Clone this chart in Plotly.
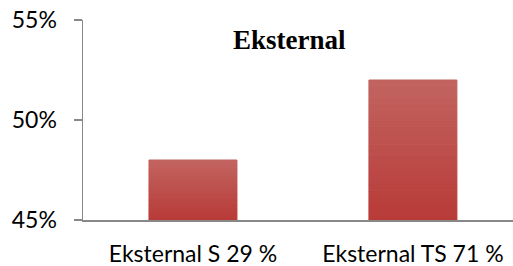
import plotly.graph_objects as go

categories = ["Eksternal S 29 %", "Eksternal TS 71 %"]
values = [0.48, 0.52]
y_min, y_max = 0.45, 0.55
tick_vals = [0.45, 0.50, 0.55]
tick_text = ["45%", "50%", "55%"]
title = "Eksternal"

# gradient colours (bottom -> top)
c_bot = (184, 58, 55)
c_top = (194, 100, 96)
n_seg = 24

fig = go.Figure()
for i in range(n_seg):
    t0 = i / n_seg
    t = (i + 0.5) / n_seg
    col = "rgb(%d,%d,%d)" % tuple(int(round(c_bot[k] + (c_top[k] - c_bot[k]) * t)) for k in range(3))
    bases = [y_min + (v - y_min) * t0 for v in values]
    heights = [(v - y_min) / n_seg for v in values]
    fig.add_trace(go.Bar(
        x=categories, y=heights, base=bases,
        marker=dict(color=col, line=dict(width=1, color=col)),
        width=0.4, showlegend=False, hoverinfo="skip",
    ))

tick_font = dict(family="Lato, 'Open Sans', sans-serif", size=23, color="#000")

fig.update_layout(
    width=513, height=266,
    margin=dict(l=83, r=0, t=20, b=46, autoexpand=False),
    paper_bgcolor="white", plot_bgcolor="white",
    barmode="overlay",
    font=tick_font,
    xaxis=dict(
        range=[-0.5, 1.455], showgrid=False, zeroline=False,
        showline=True, linecolor="#888888", linewidth=1.5,
        ticks="", tickfont=tick_font, fixedrange=True, automargin=False,
        ticklabelstandoff=13, ticklabeloverflow="allow",
    ),
    yaxis=dict(
        range=[y_min, y_max], tickvals=tick_vals, ticktext=tick_text,
        showgrid=False, zeroline=False, showline=True,
        linecolor="#888888", linewidth=1.5,
        ticks="outside", ticklen=8, tickcolor="#888888", tickwidth=1.5,
        tickfont=tick_font, fixedrange=True, automargin=False,
        ticklabelstandoff=12, ticklabeloverflow="allow",
    ),
    annotations=[dict(
        text="<b>%s</b>" % title, x=0.481, y=0.9, xref="paper", yref="paper",
        xanchor="center", yanchor="middle", showarrow=False,
        font=dict(family="'Liberation Serif', 'DejaVu Serif', serif", size=27, color="#000"),
    )],
)

fig.write_html(
    "out.html",
    config={"displayModeBar": False, "staticPlot": True},
    post_script="document.body.style.margin='0';document.body.style.overflow='hidden';",
)
